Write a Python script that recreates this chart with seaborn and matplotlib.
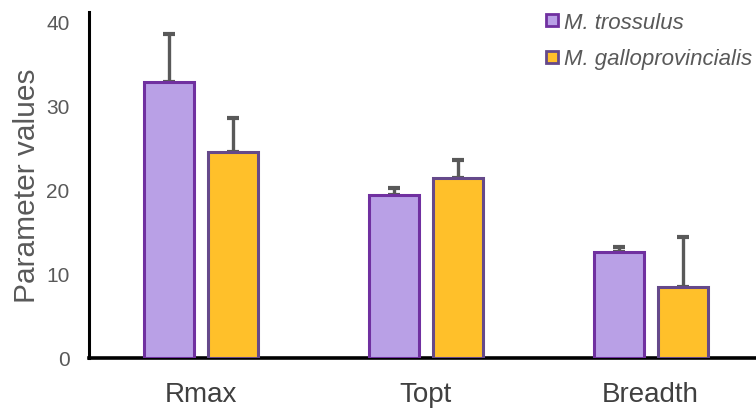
import numpy as np
import pandas as pd
import seaborn as sns
import matplotlib
matplotlib.use("Agg")
import matplotlib.pyplot as plt
from matplotlib.lines import Line2D

# Fitted thermal-performance parameters per species
parameters = ["Rmax", "Topt", "Breadth"]
species = ["M. trossulus", "M. galloprovincialis"]
trossulus_mean = [32.8, 19.3, 12.6]
trossulus_sd = [5.7, 0.9, 0.6]
gallo_mean = [24.5, 21.4, 8.4]
gallo_sd = [4.0, 2.1, 5.9]

df = pd.DataFrame({
    "parameter": parameters * 2,
    "species": [species[0]] * 3 + [species[1]] * 3,
    "value": trossulus_mean + gallo_mean,
    "sd": trossulus_sd + gallo_sd,
})

fill_colors = {species[0]: "#B9A0E6", species[1]: "#FFC02A"}
edge_colors = {species[0]: "#7030A0", species[1]: "#65498A"}

sns.set_theme(style="white")
plt.rcParams["font.family"] = ["Liberation Sans", "DejaVu Sans"]

fig = plt.figure(figsize=(7.56, 4.10), dpi=100)
ax = fig.add_axes([89 / 756, 1 - 358.5 / 410, (763 - 89) / 756, (358.5 - 13.3) / 410])

sns.barplot(data=df, x="parameter", y="value", hue="species",
            order=parameters, hue_order=species, palette=fill_colors,
            saturation=1, width=0.57, gap=0.22, errorbar=None,
            legend=False, ax=ax, zorder=3)

# Outline each bar in its species colour and add upper-only SD whiskers
for sp, container in zip(species, ax.containers):
    sub = df[df["species"] == sp].set_index("parameter").loc[parameters]
    xs = []
    for patch in container:
        patch.set_edgecolor(edge_colors[sp])
        patch.set_linewidth(2.2)
        xs.append(patch.get_x() + patch.get_width() / 2)
    ax.errorbar(xs, sub["value"].values,
                yerr=[np.zeros(len(xs)), sub["sd"].values],
                fmt="none", ecolor="#595959", elinewidth=2.4,
                capsize=4, capthick=3, zorder=2)

ax.set_xlim(-0.5, 2.5)
ax.set_ylim(0, 41.1)
ax.set_yticks([0, 10, 20, 30, 40])
ax.set_xlabel("")
ax.set_ylabel("Parameter values", fontsize=21.5, color="#595959", labelpad=4)
ax.tick_params(axis="y", length=0, pad=14, labelsize=15, labelcolor="#595959")
ax.tick_params(axis="x", length=0, pad=17, labelsize=20, labelcolor="#404040")

for side in ["top", "right"]:
    ax.spines[side].set_visible(False)
ax.spines["left"].set_color("black")
ax.spines["left"].set_linewidth(2.2)
ax.spines["bottom"].set_color("black")
ax.spines["bottom"].set_linewidth(2.6)

handles = [Line2D([], [], linestyle="none", marker="s", markersize=9,
                  markerfacecolor=fill_colors[sp], markeredgecolor=edge_colors[sp],
                  markeredgewidth=2) for sp in species]
fig.legend(handles, species, loc="upper left", bbox_to_anchor=(533 / 756, 1 - 4 / 410),
           frameon=False, prop={"style": "italic", "size": 16},
           labelcolor="#595959", handletextpad=0.1, handlelength=0.9,
           labelspacing=0.7, borderaxespad=0)

fig.savefig("out.png", dpi=100)
